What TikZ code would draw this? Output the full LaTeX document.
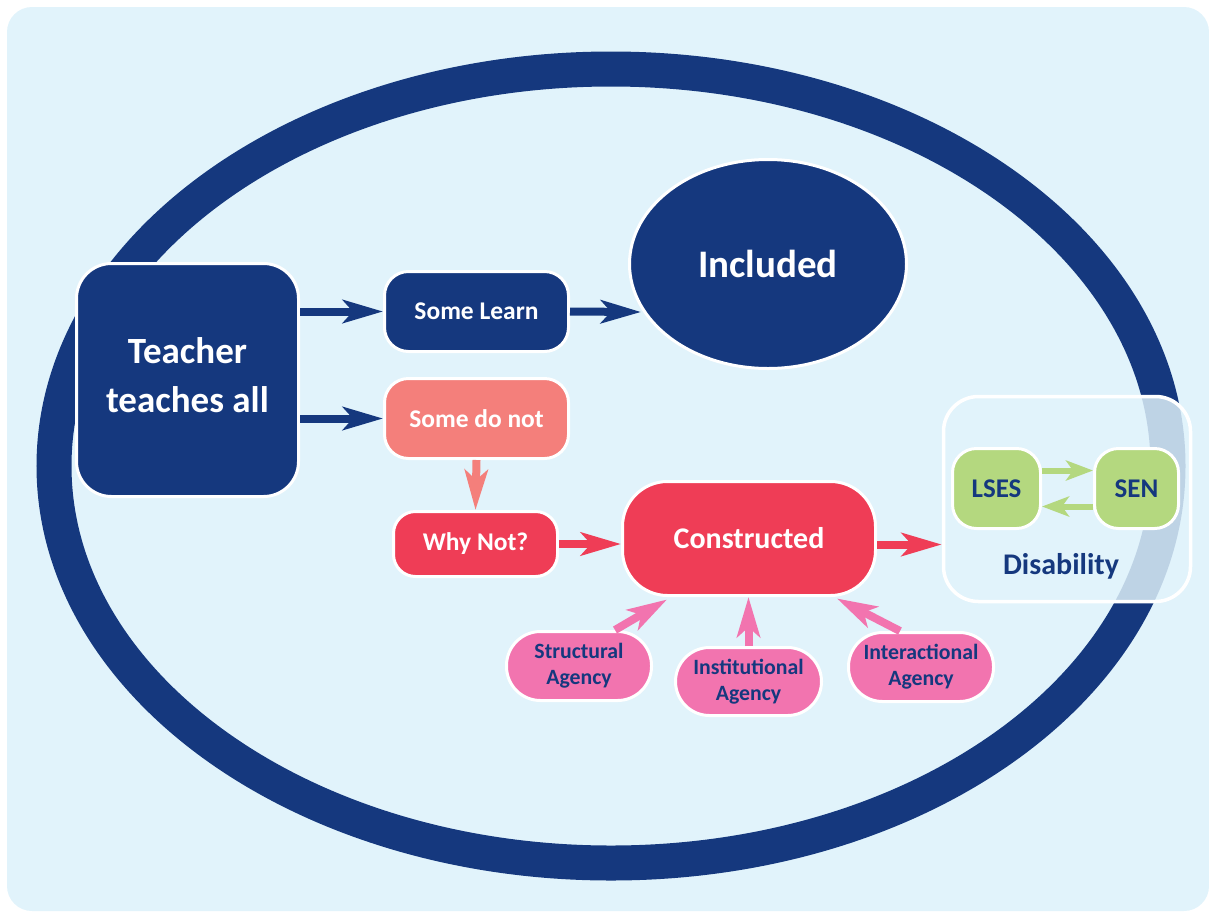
\documentclass[tikz,border=0pt]{standalone}
\usepackage{fontspec}
\setmainfont{Carlito}
\usetikzlibrary{arrows.meta,shapes.geometric}
\definecolor{dblue}{RGB}{21,56,126}
\definecolor{bgc}{RGB}{225,243,251}
\definecolor{salmon}{RGB}{244,127,123}
\definecolor{redc}{RGB}{239,61,86}
\definecolor{pinkc}{RGB}{242,116,175}
\definecolor{greenc}{RGB}{180,216,127}
\tikzset{
  box/.style={draw=white, line width=3pt, inner sep=0pt, align=center, font=\bfseries},
  bigarrow/.style={line width=8pt, -{Stealth[length=40pt,width=23pt,inset=10pt]}},
  smallarrow/.style={line width=6pt, -{Stealth[length=27pt,width=20pt,inset=7pt]}, greenc},
  agency/.style={box, fill=pinkc, text=dblue, rounded corners=34pt, minimum width=145pt, minimum height=69pt, font=\bfseries\fontsize{21.8}{26}\selectfont},
}
\begin{document}
\begin{tikzpicture}[x=1pt,y=-1pt]
\useasboundingbox (0,0) rectangle (1209,911);
\fill[bgc, rounded corners=25pt] (7,7) rectangle (1209,911);
\draw[line width=35pt, dblue] (611,466) ellipse [x radius=557, y radius=397];

\node[box, fill=dblue, text=white, rounded corners=35pt, minimum width=222pt, minimum height=233pt,
      font=\bfseries\fontsize{37}{49}\selectfont] (teach) at (187.5,380) {Teacher\\teaches all\\[-39pt]};
\node[box, fill=dblue, text=white, rounded corners=24pt, minimum width=184pt, minimum height=80pt,
      font=\bfseries\fontsize{25.5}{30}\selectfont] (sl) at (476.5,311.5) {Some Learn};
\node[box, fill=salmon, text=white, rounded corners=24pt, minimum width=184pt, minimum height=80pt,
      font=\bfseries\fontsize{25.5}{30}\selectfont] (sdn) at (476.5,418.5) {Some do not};
\node[box, fill=redc, text=white, rounded corners=22pt, minimum width=164pt, minimum height=65pt,
      font=\bfseries\fontsize{25.5}{30}\selectfont] (why) at (475.5,544) {Why Not?};
\node[box, ellipse, fill=dblue, text=white, minimum width=277pt, minimum height=209pt,
      font=\bfseries\fontsize{39}{45}\selectfont] (inc) at (768,264) {Included};
\node[box, fill=redc, text=white, rounded corners=45pt, minimum width=253pt, minimum height=114pt,
      font=\bfseries\fontsize{30}{36}\selectfont] (con) at (749,538.5) {Constructed};

\node[box, line width=3.5pt, fill=bgc, fill opacity=0.83, rounded corners=35pt,
      minimum width=247pt, minimum height=205pt] (dis) at (1067,499) {};
\node[font=\bfseries\fontsize{30}{34}\selectfont, text=dblue, inner sep=0pt] (distext) at (1061,566) {Disability};
\node[box, fill=greenc, text=dblue, rounded corners=24pt, minimum width=88pt, minimum height=80pt,
      font=\bfseries\fontsize{27}{30}\selectfont] (lses) at (996.5,488.5) {LSES};
\node[box, fill=greenc, text=dblue, rounded corners=24pt, minimum width=84pt, minimum height=80pt,
      font=\bfseries\fontsize{27}{30}\selectfont] (sen) at (1136.5,488.5) {SEN};

\node[agency] (str) at (579,666) {Structural\\Agency};
\node[agency, minimum width=146pt, minimum height=68pt] (inst) at (748.5,681.5) {Institutional\\Agency};
\node[agency] (inter) at (921,667) {Interactional\\Agency};

\coordinate (incin) at (641,312);
\draw[bigarrow, dblue] (teach.east |- sl.west) -- (sl.west);
\draw[bigarrow, dblue] (teach.east |- sdn.west) -- (sdn.west);
\draw[bigarrow, dblue] (sl.east) -- (incin);
\draw[bigarrow, salmon] (sdn.south) -- (why.north);
\draw[bigarrow, redc] (why.east) -- (why.east -| con.west);
\draw[bigarrow, redc] ([yshift=-6pt]con.east) -- ([yshift=-6pt]con.east -| dis.west);

\draw[smallarrow] ([yshift=18pt]lses.east) -- ([yshift=18pt]lses.east -| sen.west);
\draw[smallarrow] ([yshift=-18pt]sen.west) -- ([yshift=-18pt]sen.west -| lses.east);

\draw[bigarrow, pinkc] ([xshift=36pt]str.north) -- ([xshift=-82pt,yshift=-2.5pt]con.south);
\draw[bigarrow, pinkc] (inst.north) -- (inst.north |- con.south);
\draw[bigarrow, pinkc] ([xshift=-21pt]inter.north) -- ([xshift=88pt,yshift=-1.5pt]con.south);
\end{tikzpicture}
\end{document}
